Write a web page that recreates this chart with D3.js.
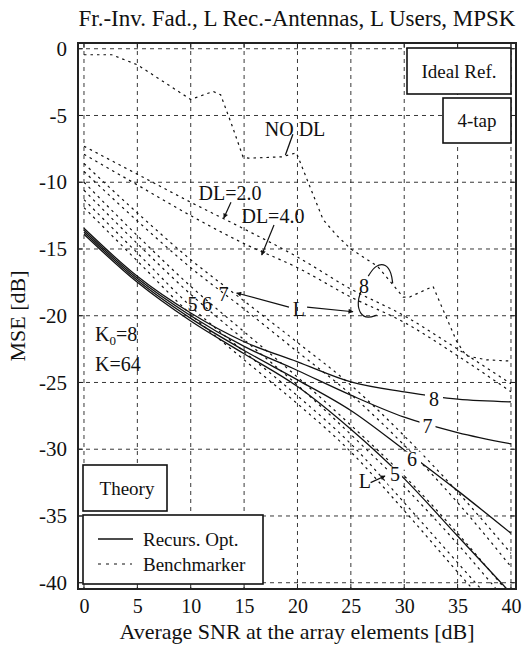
<!DOCTYPE html>
<html>
<head>
<meta charset="utf-8">
<script src="https://cdn.jsdelivr.net/npm/d3@7"></script>
<style>
  body { margin: 0; background: #fff; }
  text { font-family: "Liberation Serif", "Times New Roman", serif; fill: #111; }
</style>
</head>
<body>
<div class="chart"></div>
<script>
// data
var snr = [0, 5, 10, 15, 20, 25, 30, 35, 40];
var xTicks = [0, 5, 10, 15, 20, 25, 30, 35, 40];
var yTicks = [0, -5, -10, -15, -20, -25, -30, -35, -40];

// Recurs. Opt. (solid), L = 5..8
var optL5 = [-13.9, -17.5, -20.4, -22.85, -25.3, -28.5, -32.2, -36.5, -40.8];
var optL6 = [-13.75, -17.35, -20.2, -22.6, -24.8, -27.1, -30.05, -33.1, -36.3];
var optL7 = [-13.6, -17.2, -20.0, -22.3, -24.1, -25.95, -27.6, -28.75, -29.6];
var optL8 = [-13.45, -17.05, -19.8, -21.95, -23.45, -24.95, -25.7, -26.25, -26.45];

// Benchmarker (dashed), DL=2.0 / DL=4.0 for each L
var benchL8Dl2 = [-7.3, -9.4, -11.5, -13.5, -15.6, -18.0, -20.0, -22.5, -25.1];
var benchL8Dl4 = [-7.9, -10.2, -12.5, -14.6, -16.4, -18.6, -20.5, -23.0, -25.7];
var benchL7Dl2 = [-8.6, -12.3, -15.8, -18.9, -22.0, -25.2, -29.0, -33.2, -37.8];
var benchL7Dl4 = [-9.2, -12.9, -16.4, -19.5, -22.7, -25.9, -29.7, -34.0, -38.8];
var benchL6Dl2 = [-10.0, -14.0, -17.8, -21.2, -24.6, -28.2, -32.0, -36.3, -41.0];
var benchL6Dl4 = [-10.6, -14.6, -18.4, -21.8, -25.2, -28.9, -32.8, -37.1, -41.8];
var benchL5Dl2 = [-11.3, -15.3, -19.3, -22.7, -26.0, -29.6, -34.0, -38.5, -43.0];
var benchL5Dl4 = [-11.9, -15.9, -19.9, -23.3, -26.6, -30.2, -34.6, -39.2, -43.7];

// NO DL (L=8)
var noDlSnr = [0, 2.6, 5, 10, 12.1, 12.8, 13.8, 14.9, 15.4, 18.5, 19.9, 21, 22.4, 23.7, 25, 27.5, 29.9, 30.5, 32.7, 33.5, 34.9, 35.8, 37.7, 40];
var noDl = [-0.45, -0.45, -1.2, -3.8, -3.2, -3.45, -5.6, -8.1, -8.2, -8.1, -7.8, -10.0, -12.8, -14.0, -15.0, -16.3, -18.6, -18.6, -17.8, -19.3, -21.9, -23.0, -23.3, -23.4];

// Options
var width = 523, height = 646;
var pLeft = 78, pTop = 43, pRight = 516, pBottom = 589;
var fontFam = '"Liberation Serif", "Times New Roman", serif';
var ink = '#111';

var x = d3.scaleLinear().domain([-0.56, 40.47]).range([pLeft, pRight]);
var y = d3.scaleLinear().domain([0.43, -40.47]).range([pTop, pBottom]);

var svg = d3.select('.chart').append('svg')
  .attr('width', width).attr('height', height);

var defs = svg.append('defs');
defs.append('clipPath').attr('id', 'plot')
  .append('rect').attr('x', pLeft).attr('y', pTop)
  .attr('width', pRight - pLeft).attr('height', pBottom - pTop);

var arrow = defs.append('marker')
  .attr('id', 'arr').attr('viewBox', '0 0 10 10')
  .attr('refX', 9).attr('refY', 5)
  .attr('markerWidth', 7).attr('markerHeight', 5)
  .attr('markerUnits', 'userSpaceOnUse')
  .attr('orient', 'auto');
arrow.append('path').attr('d', 'M0,0L10,5L0,10z').attr('fill', ink);

// grid
var grid = svg.append('g');
grid.selectAll('.gx').data(xTicks).enter().append('line')
  .attr('x1', d => x(d)).attr('x2', d => x(d))
  .attr('y1', pTop).attr('y2', pBottom)
  .attr('stroke', '#222').attr('stroke-width', 0.9).attr('stroke-dasharray', '4,4');
grid.selectAll('.gy').data(yTicks).enter().append('line')
  .attr('x1', pLeft).attr('x2', pRight)
  .attr('y1', d => y(d)).attr('y2', d => y(d))
  .attr('stroke', '#222').attr('stroke-width', 0.9).attr('stroke-dasharray', '4,4');

// axes (labels only)
var axX = svg.append('g')
  .attr('transform', 'translate(0,' + pBottom + ')')
  .call(d3.axisBottom(x).tickValues(xTicks).tickSize(0).tickPadding(10));
var axY = svg.append('g')
  .attr('transform', 'translate(' + pLeft + ',0)')
  .call(d3.axisLeft(y).tickValues(yTicks).tickSize(0).tickPadding(11)
    .tickFormat(d => d === 0 ? '0' : '-' + Math.abs(d)));
[axX, axY].forEach(function(a) {
  a.select('.domain').remove();
  a.selectAll('text').attr('font-family', fontFam).attr('font-size', 21).attr('fill', ink);
});
axX.selectAll('text').attr('font-size', 20);

// curves
var plot = svg.append('g').attr('clip-path', 'url(#plot)');
var smooth = d3.line().x(d => x(d[0])).y(d => y(d[1])).curve(d3.curveMonotoneX);
var straight = d3.line().x(d => x(d[0])).y(d => y(d[1]));

var benchSeries = [benchL8Dl2, benchL8Dl4, benchL7Dl2, benchL7Dl4, benchL6Dl2, benchL6Dl4, benchL5Dl2, benchL5Dl4];
plot.selectAll('.bench').data(benchSeries).enter().append('path')
  .attr('d', s => smooth(snr.map((v, i) => [v, s[i]])))
  .attr('fill', 'none').attr('stroke', ink).attr('stroke-width', 1.2)
  .attr('stroke-dasharray', '2.5,4');

plot.append('path')
  .attr('d', straight(noDlSnr.map((v, i) => [v, noDl[i]])))
  .attr('fill', 'none').attr('stroke', ink).attr('stroke-width', 1.2)
  .attr('stroke-dasharray', '2.5,4');

var optSeries = [optL5, optL6, optL7, optL8];
plot.selectAll('.opt').data(optSeries).enter().append('path')
  .attr('d', s => smooth(snr.map((v, i) => [v, s[i]])))
  .attr('fill', 'none').attr('stroke', ink).attr('stroke-width', 1.3);

// labels with white background (break the lines)
var ann = svg.append('g');
function label(txt, xd, yd, opts) {
  opts = opts || {};
  var fs = opts.size || 20;
  if (opts.bg) {
    ann.append('rect')
      .attr('x', x(xd) - opts.bg[0] / 2).attr('y', y(yd) - fs * 0.72)
      .attr('width', opts.bg[0]).attr('height', opts.bg[1])
      .attr('fill', '#fff');
  }
  return ann.append('text').attr('x', x(xd)).attr('y', y(yd))
    .attr('text-anchor', opts.anchor || 'middle')
    .attr('font-family', fontFam).attr('font-size', fs).text(txt);
}
function arrowLine(x1, y1, x2, y2) {
  ann.append('line')
    .attr('x1', x(x1)).attr('y1', y(y1)).attr('x2', x(x2)).attr('y2', y(y2))
    .attr('stroke', ink).attr('stroke-width', 1.2)
    .attr('marker-end', 'url(#arr)');
}

// solid-curve labels
label('8', 32.79, -26.76, { bg: [18, 18] });
label('7', 32.18, -28.79, { bg: [16, 18] });
label('6', 30.73, -31.26, { bg: [18, 18] });
label('5', 29.13, -32.38, { bg: [14, 18] });
label('L', 26.32, -32.9);
arrowLine(26.85, -32.5, 28.2, -32.0);

// dashed-curve labels
label('5', 10.16, -19.65);
label('6', 11.52, -19.65);
label('7', 13.07, -18.9);
label('L', 20.14, -20.02);
arrowLine(19.2, -19.35, 14.3, -18.3);
arrowLine(20.9, -19.35, 25.2, -19.7);
label('8', 26.23, -18.3);

var arc = d3.line().x(d => x(d[0])).y(d => y(d[1])).curve(d3.curveBasis);
ann.append('path')
  .attr('d', arc([[26.63, -17.03], [27.3, -16.2], [28.3, -16.1], [28.8, -16.8], [28.92, -17.57]]))
  .attr('fill', 'none').attr('stroke', ink).attr('stroke-width', 1.2);
ann.append('path')
  .attr('d', arc([[25.92, -18.2], [25.6, -19.0], [25.85, -19.9], [26.6, -20.2], [27.42, -19.95]]))
  .attr('fill', 'none').attr('stroke', ink).attr('stroke-width', 1.2);

label('NO DL', 19.77, -6.54);
ann.append('line')
  .attr('x1', x(19.57)).attr('y1', y(-6.4)).attr('x2', x(18.87)).attr('y2', y(-7.96))
  .attr('stroke', ink).attr('stroke-width', 1.3);
label('DL=2.0', 13.68, -11.33);
arrowLine(13.77, -11.5, 13.1, -12.68);
label('DL=4.0', 17.7, -13.06);
arrowLine(17.8, -13.2, 16.65, -15.45);

var k0 = ann.append('text').attr('x', x(1.03)).attr('y', y(-21.9))
  .attr('font-family', fontFam).attr('font-size', 20);
k0.append('tspan').text('K');
k0.append('tspan').attr('font-size', 13).attr('dy', 4).text('0');
k0.append('tspan').attr('dy', -4).text('=8');
label('K=64', 1.03, -24.14, { anchor: 'start' });

// boxes
function box(x0, y0, w, h) {
  return svg.append('rect').attr('x', x0).attr('y', y0).attr('width', w).attr('height', h)
    .attr('fill', '#fff').attr('stroke', ink).attr('stroke-width', 1.6);
}
function boxText(txt, cx, by, fs, anchor) {
  svg.append('text').attr('x', cx).attr('y', by)
    .attr('text-anchor', anchor || 'middle')
    .attr('font-family', fontFam).attr('font-size', fs).text(txt);
}
box(pRight - 109, pTop + 5, 104, 46);
boxText('Ideal Ref.', pRight - 57, pTop + 35, 19);
box(pRight - 73, pTop + 55, 68, 45);
boxText('4-tap', pRight - 39, pTop + 84, 19);
box(pLeft + 5, 465, 84, 46);
boxText('Theory', pLeft + 49, 495, 19);
box(pLeft + 5, 515, 180, 69);
svg.append('line').attr('x1', pLeft + 20).attr('x2', pLeft + 55)
  .attr('y1', 539).attr('y2', 539).attr('stroke', ink).attr('stroke-width', 1.3);
svg.append('line').attr('x1', pLeft + 20).attr('x2', pLeft + 54)
  .attr('y1', 564).attr('y2', 564).attr('stroke', ink).attr('stroke-width', 1.2)
  .attr('stroke-dasharray', '3,5');
boxText('Recurs. Opt.', pLeft + 65, 546, 19, 'start');
boxText('Benchmarker', pLeft + 65, 571, 19, 'start');

// frame + inward ticks
svg.append('rect').attr('x', pLeft).attr('y', pTop)
  .attr('width', pRight - pLeft).attr('height', pBottom - pTop)
  .attr('fill', 'none').attr('stroke', '#222').attr('stroke-width', 2);
var ticks = svg.append('g').attr('stroke', '#222').attr('stroke-width', 1);
xTicks.forEach(function(t) {
  ticks.append('line').attr('x1', x(t)).attr('x2', x(t)).attr('y1', pBottom).attr('y2', pBottom - 5);
  ticks.append('line').attr('x1', x(t)).attr('x2', x(t)).attr('y1', pTop).attr('y2', pTop + 5);
});
yTicks.forEach(function(t) {
  ticks.append('line').attr('x1', pLeft).attr('x2', pLeft + 5).attr('y1', y(t)).attr('y2', y(t));
  ticks.append('line').attr('x1', pRight).attr('x2', pRight - 5).attr('y1', y(t)).attr('y2', y(t));
});

// titles
svg.append('text').attr('x', 297).attr('y', 26).attr('text-anchor', 'middle')
  .attr('font-family', fontFam).attr('font-size', 23)
  .text('Fr.-Inv. Fad., L Rec.-Antennas, L Users, MPSK');
svg.append('text').attr('x', 297).attr('y', 639).attr('text-anchor', 'middle')
  .attr('font-family', fontFam).attr('font-size', 22)
  .text('Average SNR at the array elements [dB]');
svg.append('text').attr('transform', 'translate(25,316) rotate(-90)')
  .attr('text-anchor', 'middle')
  .attr('font-family', fontFam).attr('font-size', 22)
  .text('MSE [dB]');
</script>
</body>
</html>
